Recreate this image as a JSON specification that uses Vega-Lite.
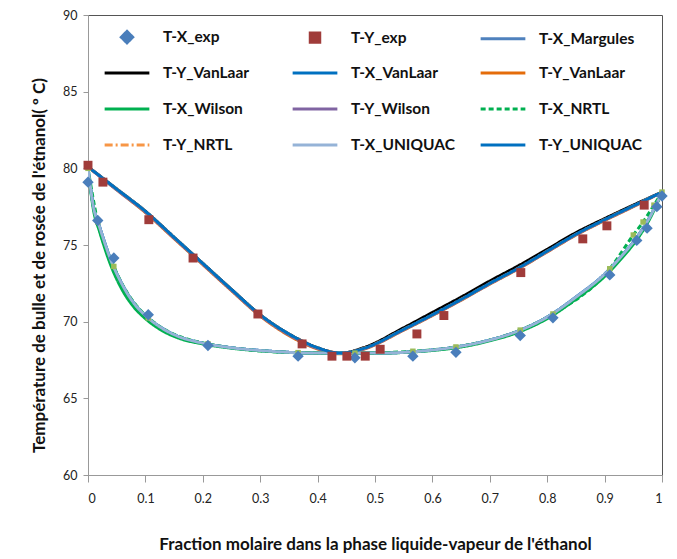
{
  "$schema": "https://vega.github.io/schema/vega-lite/v6.json",
  "width": 574,
  "height": 460,
  "autosize": {"type": "none"},
  "padding": {"left": 88, "top": 15, "right": 15, "bottom": 84},
  "background": "white",
  "config": {
    "view": {"stroke": "#555", "strokeWidth": 1},
    "font": "Lato",
    "axis": {"grid": false, "domainColor": "#999", "tickColor": "#999", "labelFont": "Lato", "labelColor": "#222", "titleFont": "Lato", "titleColor": "#111"}
  },
  "datasets": {
    "exp": [
      {"x": 0, "T": 79.1, "series": "T-X_exp"},
      {"x": 0.017, "T": 76.6, "series": "T-X_exp"},
      {"x": 0.045, "T": 74.15, "series": "T-X_exp"},
      {"x": 0.105, "T": 70.45, "series": "T-X_exp"},
      {"x": 0.209, "T": 68.45, "series": "T-X_exp"},
      {"x": 0.366, "T": 67.75, "series": "T-X_exp"},
      {"x": 0.465, "T": 67.65, "series": "T-X_exp"},
      {"x": 0.566, "T": 67.75, "series": "T-X_exp"},
      {"x": 0.641, "T": 68.0, "series": "T-X_exp"},
      {"x": 0.753, "T": 69.1, "series": "T-X_exp"},
      {"x": 0.81, "T": 70.25, "series": "T-X_exp"},
      {"x": 0.909, "T": 73.05, "series": "T-X_exp"},
      {"x": 0.956, "T": 75.3, "series": "T-X_exp"},
      {"x": 0.974, "T": 76.1, "series": "T-X_exp"},
      {"x": 0.991, "T": 77.5, "series": "T-X_exp"},
      {"x": 1.0, "T": 78.2, "series": "T-X_exp"},
      {"x": 0, "T": 80.2, "series": "T-Y_exp"},
      {"x": 0.026, "T": 79.1, "series": "T-Y_exp"},
      {"x": 0.106, "T": 76.65, "series": "T-Y_exp"},
      {"x": 0.183, "T": 74.15, "series": "T-Y_exp"},
      {"x": 0.296, "T": 70.5, "series": "T-Y_exp"},
      {"x": 0.373, "T": 68.55, "series": "T-Y_exp"},
      {"x": 0.425, "T": 67.75, "series": "T-Y_exp"},
      {"x": 0.451, "T": 67.75, "series": "T-Y_exp"},
      {"x": 0.483, "T": 67.75, "series": "T-Y_exp"},
      {"x": 0.509, "T": 68.2, "series": "T-Y_exp"},
      {"x": 0.573, "T": 69.2, "series": "T-Y_exp"},
      {"x": 0.62, "T": 70.4, "series": "T-Y_exp"},
      {"x": 0.754, "T": 73.2, "series": "T-Y_exp"},
      {"x": 0.862, "T": 75.4, "series": "T-Y_exp"},
      {"x": 0.904, "T": 76.25, "series": "T-Y_exp"},
      {"x": 0.969, "T": 77.6, "series": "T-Y_exp"}
    ],
    "model": [
      {"x": 0, "T": 80.0, "series": "T-X_Margules"},
      {"x": 0.01, "T": 77.4, "series": "T-X_Margules"},
      {"x": 0.02, "T": 76.2, "series": "T-X_Margules"},
      {"x": 0.04, "T": 74.0, "series": "T-X_Margules"},
      {"x": 0.06, "T": 72.4, "series": "T-X_Margules"},
      {"x": 0.08, "T": 71.2, "series": "T-X_Margules"},
      {"x": 0.1, "T": 70.4, "series": "T-X_Margules"},
      {"x": 0.13, "T": 69.55, "series": "T-X_Margules"},
      {"x": 0.16, "T": 69.0, "series": "T-X_Margules"},
      {"x": 0.2, "T": 68.6, "series": "T-X_Margules"},
      {"x": 0.25, "T": 68.3, "series": "T-X_Margules"},
      {"x": 0.3, "T": 68.12, "series": "T-X_Margules"},
      {"x": 0.4, "T": 67.95, "series": "T-X_Margules"},
      {"x": 0.5, "T": 67.95, "series": "T-X_Margules"},
      {"x": 0.6, "T": 68.15, "series": "T-X_Margules"},
      {"x": 0.65, "T": 68.4, "series": "T-X_Margules"},
      {"x": 0.7, "T": 68.8, "series": "T-X_Margules"},
      {"x": 0.75, "T": 69.4, "series": "T-X_Margules"},
      {"x": 0.8, "T": 70.3, "series": "T-X_Margules"},
      {"x": 0.85, "T": 71.6, "series": "T-X_Margules"},
      {"x": 0.9, "T": 73.1, "series": "T-X_Margules"},
      {"x": 0.93, "T": 74.3, "series": "T-X_Margules"},
      {"x": 0.96, "T": 75.7, "series": "T-X_Margules"},
      {"x": 0.98, "T": 76.9, "series": "T-X_Margules"},
      {"x": 1, "T": 78.45, "series": "T-X_Margules"},

      {"x": 0, "T": 80.1, "series": "T-Y_Margules"},
      {"x": 0.05, "T": 78.65, "series": "T-Y_Margules"},
      {"x": 0.1, "T": 77.2, "series": "T-Y_Margules"},
      {"x": 0.15, "T": 75.5, "series": "T-Y_Margules"},
      {"x": 0.2, "T": 73.8, "series": "T-Y_Margules"},
      {"x": 0.25, "T": 72.1, "series": "T-Y_Margules"},
      {"x": 0.3, "T": 70.45, "series": "T-Y_Margules"},
      {"x": 0.35, "T": 69.2, "series": "T-Y_Margules"},
      {"x": 0.4, "T": 68.3, "series": "T-Y_Margules"},
      {"x": 0.44, "T": 67.95, "series": "T-Y_Margules"},
      {"x": 0.48, "T": 68.3, "series": "T-Y_Margules"},
      {"x": 0.55, "T": 69.6, "series": "T-Y_Margules"},
      {"x": 0.6, "T": 70.6, "series": "T-Y_Margules"},
      {"x": 0.65, "T": 71.6, "series": "T-Y_Margules"},
      {"x": 0.7, "T": 72.65, "series": "T-Y_Margules"},
      {"x": 0.75, "T": 73.65, "series": "T-Y_Margules"},
      {"x": 0.8, "T": 74.72, "series": "T-Y_Margules"},
      {"x": 0.85, "T": 75.8, "series": "T-Y_Margules"},
      {"x": 0.9, "T": 76.72, "series": "T-Y_Margules"},
      {"x": 0.95, "T": 77.6, "series": "T-Y_Margules"},
      {"x": 1, "T": 78.45, "series": "T-Y_Margules"},

      {"x": 0, "T": 80.0, "series": "T-X_VanLaar"},
      {"x": 0.01, "T": 77.4, "series": "T-X_VanLaar"},
      {"x": 0.02, "T": 76.2, "series": "T-X_VanLaar"},
      {"x": 0.04, "T": 74.0, "series": "T-X_VanLaar"},
      {"x": 0.06, "T": 72.4, "series": "T-X_VanLaar"},
      {"x": 0.08, "T": 71.2, "series": "T-X_VanLaar"},
      {"x": 0.1, "T": 70.4, "series": "T-X_VanLaar"},
      {"x": 0.13, "T": 69.55, "series": "T-X_VanLaar"},
      {"x": 0.16, "T": 69.0, "series": "T-X_VanLaar"},
      {"x": 0.2, "T": 68.6, "series": "T-X_VanLaar"},
      {"x": 0.25, "T": 68.3, "series": "T-X_VanLaar"},
      {"x": 0.3, "T": 68.12, "series": "T-X_VanLaar"},
      {"x": 0.4, "T": 67.95, "series": "T-X_VanLaar"},
      {"x": 0.5, "T": 67.95, "series": "T-X_VanLaar"},
      {"x": 0.6, "T": 68.15, "series": "T-X_VanLaar"},
      {"x": 0.65, "T": 68.4, "series": "T-X_VanLaar"},
      {"x": 0.7, "T": 68.8, "series": "T-X_VanLaar"},
      {"x": 0.75, "T": 69.4, "series": "T-X_VanLaar"},
      {"x": 0.8, "T": 70.3, "series": "T-X_VanLaar"},
      {"x": 0.85, "T": 71.6, "series": "T-X_VanLaar"},
      {"x": 0.9, "T": 73.1, "series": "T-X_VanLaar"},
      {"x": 0.93, "T": 74.3, "series": "T-X_VanLaar"},
      {"x": 0.96, "T": 75.7, "series": "T-X_VanLaar"},
      {"x": 0.98, "T": 76.9, "series": "T-X_VanLaar"},
      {"x": 1, "T": 78.45, "series": "T-X_VanLaar"},

      {"x": 0, "T": 80.1, "series": "T-Y_VanLaar"},
      {"x": 0.05, "T": 78.6, "series": "T-Y_VanLaar"},
      {"x": 0.1, "T": 77.12, "series": "T-Y_VanLaar"},
      {"x": 0.15, "T": 75.42, "series": "T-Y_VanLaar"},
      {"x": 0.2, "T": 73.72, "series": "T-Y_VanLaar"},
      {"x": 0.25, "T": 72.02, "series": "T-Y_VanLaar"},
      {"x": 0.3, "T": 70.37, "series": "T-Y_VanLaar"},
      {"x": 0.35, "T": 69.1, "series": "T-Y_VanLaar"},
      {"x": 0.4, "T": 68.22, "series": "T-Y_VanLaar"},
      {"x": 0.44, "T": 67.9, "series": "T-Y_VanLaar"},
      {"x": 0.48, "T": 68.2, "series": "T-Y_VanLaar"},
      {"x": 0.55, "T": 69.45, "series": "T-Y_VanLaar"},
      {"x": 0.6, "T": 70.4, "series": "T-Y_VanLaar"},
      {"x": 0.65, "T": 71.4, "series": "T-Y_VanLaar"},
      {"x": 0.7, "T": 72.45, "series": "T-Y_VanLaar"},
      {"x": 0.75, "T": 73.45, "series": "T-Y_VanLaar"},
      {"x": 0.8, "T": 74.55, "series": "T-Y_VanLaar"},
      {"x": 0.85, "T": 75.65, "series": "T-Y_VanLaar"},
      {"x": 0.9, "T": 76.6, "series": "T-Y_VanLaar"},
      {"x": 0.95, "T": 77.5, "series": "T-Y_VanLaar"},
      {"x": 1, "T": 78.45, "series": "T-Y_VanLaar"},

      {"x": 0, "T": 80.0, "series": "T-X_Wilson"},
      {"x": 0.01, "T": 77.2, "series": "T-X_Wilson"},
      {"x": 0.02, "T": 75.9, "series": "T-X_Wilson"},
      {"x": 0.04, "T": 73.65, "series": "T-X_Wilson"},
      {"x": 0.06, "T": 72.05, "series": "T-X_Wilson"},
      {"x": 0.08, "T": 70.95, "series": "T-X_Wilson"},
      {"x": 0.1, "T": 70.2, "series": "T-X_Wilson"},
      {"x": 0.13, "T": 69.4, "series": "T-X_Wilson"},
      {"x": 0.16, "T": 68.9, "series": "T-X_Wilson"},
      {"x": 0.2, "T": 68.55, "series": "T-X_Wilson"},
      {"x": 0.25, "T": 68.27, "series": "T-X_Wilson"},
      {"x": 0.3, "T": 68.1, "series": "T-X_Wilson"},
      {"x": 0.4, "T": 67.95, "series": "T-X_Wilson"},
      {"x": 0.5, "T": 67.95, "series": "T-X_Wilson"},
      {"x": 0.6, "T": 68.12, "series": "T-X_Wilson"},
      {"x": 0.65, "T": 68.35, "series": "T-X_Wilson"},
      {"x": 0.7, "T": 68.75, "series": "T-X_Wilson"},
      {"x": 0.75, "T": 69.32, "series": "T-X_Wilson"},
      {"x": 0.8, "T": 70.2, "series": "T-X_Wilson"},
      {"x": 0.85, "T": 71.47, "series": "T-X_Wilson"},
      {"x": 0.9, "T": 72.95, "series": "T-X_Wilson"},
      {"x": 0.93, "T": 74.15, "series": "T-X_Wilson"},
      {"x": 0.96, "T": 75.55, "series": "T-X_Wilson"},
      {"x": 0.98, "T": 76.8, "series": "T-X_Wilson"},
      {"x": 1, "T": 78.45, "series": "T-X_Wilson"},

      {"x": 0, "T": 80.1, "series": "T-Y_Wilson"},
      {"x": 0.05, "T": 78.6, "series": "T-Y_Wilson"},
      {"x": 0.1, "T": 77.15, "series": "T-Y_Wilson"},
      {"x": 0.15, "T": 75.45, "series": "T-Y_Wilson"},
      {"x": 0.2, "T": 73.75, "series": "T-Y_Wilson"},
      {"x": 0.25, "T": 72.05, "series": "T-Y_Wilson"},
      {"x": 0.3, "T": 70.4, "series": "T-Y_Wilson"},
      {"x": 0.35, "T": 69.15, "series": "T-Y_Wilson"},
      {"x": 0.4, "T": 68.25, "series": "T-Y_Wilson"},
      {"x": 0.44, "T": 67.92, "series": "T-Y_Wilson"},
      {"x": 0.48, "T": 68.22, "series": "T-Y_Wilson"},
      {"x": 0.55, "T": 69.47, "series": "T-Y_Wilson"},
      {"x": 0.6, "T": 70.42, "series": "T-Y_Wilson"},
      {"x": 0.65, "T": 71.42, "series": "T-Y_Wilson"},
      {"x": 0.7, "T": 72.47, "series": "T-Y_Wilson"},
      {"x": 0.75, "T": 73.47, "series": "T-Y_Wilson"},
      {"x": 0.8, "T": 74.57, "series": "T-Y_Wilson"},
      {"x": 0.85, "T": 75.67, "series": "T-Y_Wilson"},
      {"x": 0.9, "T": 76.62, "series": "T-Y_Wilson"},
      {"x": 0.95, "T": 77.52, "series": "T-Y_Wilson"},
      {"x": 1, "T": 78.45, "series": "T-Y_Wilson"},

      {"x": 0, "T": 80.0, "series": "T-X_NRTL"},
      {"x": 0.017, "T": 76.5, "series": "T-X_NRTL"},
      {"x": 0.045, "T": 73.6, "series": "T-X_NRTL"},
      {"x": 0.105, "T": 70.25, "series": "T-X_NRTL"},
      {"x": 0.209, "T": 68.55, "series": "T-X_NRTL"},
      {"x": 0.366, "T": 67.98, "series": "T-X_NRTL"},
      {"x": 0.465, "T": 67.95, "series": "T-X_NRTL"},
      {"x": 0.566, "T": 68.07, "series": "T-X_NRTL"},
      {"x": 0.641, "T": 68.35, "series": "T-X_NRTL"},
      {"x": 0.753, "T": 69.45, "series": "T-X_NRTL"},
      {"x": 0.81, "T": 70.5, "series": "T-X_NRTL"},
      {"x": 0.909, "T": 73.45, "series": "T-X_NRTL"},
      {"x": 0.95, "T": 75.65, "series": "T-X_NRTL"},
      {"x": 0.967, "T": 76.5, "series": "T-X_NRTL"},
      {"x": 0.986, "T": 77.6, "series": "T-X_NRTL"},
      {"x": 1, "T": 78.45, "series": "T-X_NRTL"},

      {"x": 0, "T": 80.1, "series": "T-Y_NRTL"},
      {"x": 0.05, "T": 78.65, "series": "T-Y_NRTL"},
      {"x": 0.1, "T": 77.2, "series": "T-Y_NRTL"},
      {"x": 0.15, "T": 75.5, "series": "T-Y_NRTL"},
      {"x": 0.2, "T": 73.8, "series": "T-Y_NRTL"},
      {"x": 0.25, "T": 72.1, "series": "T-Y_NRTL"},
      {"x": 0.3, "T": 70.45, "series": "T-Y_NRTL"},
      {"x": 0.35, "T": 69.2, "series": "T-Y_NRTL"},
      {"x": 0.4, "T": 68.3, "series": "T-Y_NRTL"},
      {"x": 0.44, "T": 67.95, "series": "T-Y_NRTL"},
      {"x": 0.48, "T": 68.25, "series": "T-Y_NRTL"},
      {"x": 0.55, "T": 69.5, "series": "T-Y_NRTL"},
      {"x": 0.6, "T": 70.45, "series": "T-Y_NRTL"},
      {"x": 0.65, "T": 71.45, "series": "T-Y_NRTL"},
      {"x": 0.7, "T": 72.5, "series": "T-Y_NRTL"},
      {"x": 0.75, "T": 73.5, "series": "T-Y_NRTL"},
      {"x": 0.8, "T": 74.6, "series": "T-Y_NRTL"},
      {"x": 0.85, "T": 75.7, "series": "T-Y_NRTL"},
      {"x": 0.9, "T": 76.65, "series": "T-Y_NRTL"},
      {"x": 0.95, "T": 77.55, "series": "T-Y_NRTL"},
      {"x": 1, "T": 78.45, "series": "T-Y_NRTL"},

      {"x": 0, "T": 80.0, "series": "T-X_UNIQUAC"},
      {"x": 0.01, "T": 77.4, "series": "T-X_UNIQUAC"},
      {"x": 0.02, "T": 76.2, "series": "T-X_UNIQUAC"},
      {"x": 0.04, "T": 74.0, "series": "T-X_UNIQUAC"},
      {"x": 0.06, "T": 72.4, "series": "T-X_UNIQUAC"},
      {"x": 0.08, "T": 71.2, "series": "T-X_UNIQUAC"},
      {"x": 0.1, "T": 70.4, "series": "T-X_UNIQUAC"},
      {"x": 0.13, "T": 69.55, "series": "T-X_UNIQUAC"},
      {"x": 0.16, "T": 69.0, "series": "T-X_UNIQUAC"},
      {"x": 0.2, "T": 68.6, "series": "T-X_UNIQUAC"},
      {"x": 0.25, "T": 68.3, "series": "T-X_UNIQUAC"},
      {"x": 0.3, "T": 68.12, "series": "T-X_UNIQUAC"},
      {"x": 0.4, "T": 67.95, "series": "T-X_UNIQUAC"},
      {"x": 0.5, "T": 67.95, "series": "T-X_UNIQUAC"},
      {"x": 0.6, "T": 68.15, "series": "T-X_UNIQUAC"},
      {"x": 0.65, "T": 68.4, "series": "T-X_UNIQUAC"},
      {"x": 0.7, "T": 68.8, "series": "T-X_UNIQUAC"},
      {"x": 0.75, "T": 69.4, "series": "T-X_UNIQUAC"},
      {"x": 0.8, "T": 70.3, "series": "T-X_UNIQUAC"},
      {"x": 0.85, "T": 71.6, "series": "T-X_UNIQUAC"},
      {"x": 0.9, "T": 73.1, "series": "T-X_UNIQUAC"},
      {"x": 0.93, "T": 74.3, "series": "T-X_UNIQUAC"},
      {"x": 0.96, "T": 75.7, "series": "T-X_UNIQUAC"},
      {"x": 0.98, "T": 76.9, "series": "T-X_UNIQUAC"},
      {"x": 1, "T": 78.45, "series": "T-X_UNIQUAC"},

      {"x": 0, "T": 80.1, "series": "T-Y_UNIQUAC"},
      {"x": 0.05, "T": 78.65, "series": "T-Y_UNIQUAC"},
      {"x": 0.1, "T": 77.2, "series": "T-Y_UNIQUAC"},
      {"x": 0.15, "T": 75.5, "series": "T-Y_UNIQUAC"},
      {"x": 0.2, "T": 73.8, "series": "T-Y_UNIQUAC"},
      {"x": 0.25, "T": 72.1, "series": "T-Y_UNIQUAC"},
      {"x": 0.3, "T": 70.45, "series": "T-Y_UNIQUAC"},
      {"x": 0.35, "T": 69.2, "series": "T-Y_UNIQUAC"},
      {"x": 0.4, "T": 68.3, "series": "T-Y_UNIQUAC"},
      {"x": 0.44, "T": 67.95, "series": "T-Y_UNIQUAC"},
      {"x": 0.48, "T": 68.25, "series": "T-Y_UNIQUAC"},
      {"x": 0.55, "T": 69.5, "series": "T-Y_UNIQUAC"},
      {"x": 0.6, "T": 70.45, "series": "T-Y_UNIQUAC"},
      {"x": 0.65, "T": 71.45, "series": "T-Y_UNIQUAC"},
      {"x": 0.7, "T": 72.5, "series": "T-Y_UNIQUAC"},
      {"x": 0.75, "T": 73.5, "series": "T-Y_UNIQUAC"},
      {"x": 0.8, "T": 74.6, "series": "T-Y_UNIQUAC"},
      {"x": 0.85, "T": 75.7, "series": "T-Y_UNIQUAC"},
      {"x": 0.9, "T": 76.65, "series": "T-Y_UNIQUAC"},
      {"x": 0.95, "T": 77.55, "series": "T-Y_UNIQUAC"},
      {"x": 1, "T": 78.45, "series": "T-Y_UNIQUAC"}
    ]
  },
  "layer": [
    {
      "data": {"name": "model"},
      "mark": {"type": "line", "interpolate": "monotone", "strokeWidth": 3, "clip": true},
      "encoding": {
        "x": {"field": "x", "type": "quantitative",
          "scale": {"domain": [0, 1], "nice": false},
          "axis": {"values": [0, 0.1, 0.2, 0.3, 0.4, 0.5, 0.6, 0.7, 0.8, 0.9, 1], "format": "~g", "tickSize": 7, "labelPadding": 10, "labelFontSize": 12.5,
            "title": "Fraction molaire dans la phase liquide-vapeur de l'éthanol", "titleFontSize": 17, "titleFontWeight": "bold", "titlePadding": 32}},
        "y": {"field": "T", "type": "quantitative",
          "scale": {"domain": [60, 90], "nice": false, "zero": false},
          "axis": {"values": [60, 65, 70, 75, 80, 85, 90], "tickSize": 5, "labelPadding": 6, "labelFontSize": 12.5,
            "title": "Température de bulle et de rosée de l'étnanol( º C)", "titleFontSize": 17, "titleFontWeight": "bold", "titlePadding": 14, "titleY": 250}},
        "color": {
          "field": "series", "type": "nominal",
          "scale": {
            "domain": ["T-X_exp", "T-Y_exp", "T-X_Margules", "T-Y_Margules", "T-X_VanLaar", "T-Y_VanLaar", "T-X_Wilson", "T-Y_Wilson", "T-X_NRTL", "T-Y_NRTL", "T-X_UNIQUAC", "T-Y_UNIQUAC"],
            "range": ["#4a7ebb", "#a03c3a", "#4f81bd", "#000000", "#0070c0", "#e46c0a", "#00b050", "#8064a2", "#00b050", "#f79646", "#95b3d7", "#0070c0"]
          },
          "legend": {
            "orient": "none", "legendX": 15, "legendY": -2, "columns": 3, "direction": "horizontal", "title": null,
            "gridAlign": "all", "columnPadding": 19, "rowPadding": -0.6, "padding": 0,
            "symbolSize": 1000, "labelOffset": 12,
            "labelFont": "Lato", "labelFontSize": 15.5, "labelFontWeight": "bold", "labelColor": "#111",
            "labelExpr": "datum.value == 'T-Y_Margules' ? 'T-Y_VanLaar' : datum.value",
            "encode": {
              "symbols": {
                "update": {
                  "shape": {"signal": "datum.value == 'T-X_exp' ? 'diamond' : datum.value == 'T-Y_exp' ? 'square' : 'stroke'"},
                  "size": {"signal": "datum.value == 'T-X_exp' ? 130 : datum.value == 'T-Y_exp' ? 90 : 2000"},
                  "fill": {"signal": "datum.value == 'T-X_exp' || datum.value == 'T-Y_exp' ? scale('color', datum.value) : 'transparent'"},
                  "stroke": {"signal": "datum.value == 'T-X_exp' || datum.value == 'T-Y_exp' ? 'transparent' : scale('color', datum.value)"},
                  "strokeWidth": {"value": 3},
                  "strokeDash": {"signal": "datum.value == 'T-X_NRTL' ? [5, 3] : datum.value == 'T-Y_NRTL' ? [8, 3, 2, 3] : [1, 0]"},
                  "opacity": {"value": 1}
                }
              }
            }
          }
        },
        "strokeDash": {
          "field": "series", "type": "nominal", "legend": null,
          "scale": {
            "domain": ["T-X_Margules", "T-Y_Margules", "T-X_VanLaar", "T-Y_VanLaar", "T-X_Wilson", "T-Y_Wilson", "T-X_NRTL", "T-Y_NRTL", "T-X_UNIQUAC", "T-Y_UNIQUAC"],
            "range": [[1, 0], [1, 0], [1, 0], [1, 0], [1, 0], [1, 0], [5, 3], [8, 3, 2, 3], [1, 0], [1, 0]]
          }
        },
        "strokeWidth": {
          "field": "series", "type": "nominal", "legend": null,
          "scale": {
            "domain": ["T-X_Margules", "T-Y_Margules", "T-X_VanLaar", "T-Y_VanLaar", "T-X_Wilson", "T-Y_Wilson", "T-X_NRTL", "T-Y_NRTL", "T-X_UNIQUAC", "T-Y_UNIQUAC"],
            "range": [3, 4, 3, 4, 2.5, 4, 2, 2, 4, 5]
          }
        }
      }
    },
    {
      "data": {"name": "model"},
      "transform": [{"filter": "datum.series == 'T-X_NRTL'"}],
      "mark": {"type": "point", "shape": "square", "filled": true, "size": 30, "color": "#9bbb59", "opacity": 1},
      "encoding": {
        "x": {"field": "x", "type": "quantitative"},
        "y": {"field": "T", "type": "quantitative"}
      }
    },
    {
      "data": {"name": "exp"},
      "mark": {"type": "point", "filled": true, "opacity": 1},
      "encoding": {
        "x": {"field": "x", "type": "quantitative"},
        "y": {"field": "T", "type": "quantitative"},
        "color": {"field": "series", "type": "nominal"},
        "shape": {"field": "series", "type": "nominal", "legend": null,
          "scale": {"domain": ["T-X_exp", "T-Y_exp"], "range": ["diamond", "square"]}},
        "size": {"field": "series", "type": "nominal", "legend": null,
          "scale": {"domain": ["T-X_exp", "T-Y_exp"], "range": [130, 80]}}
      }
    }
  ]
}
